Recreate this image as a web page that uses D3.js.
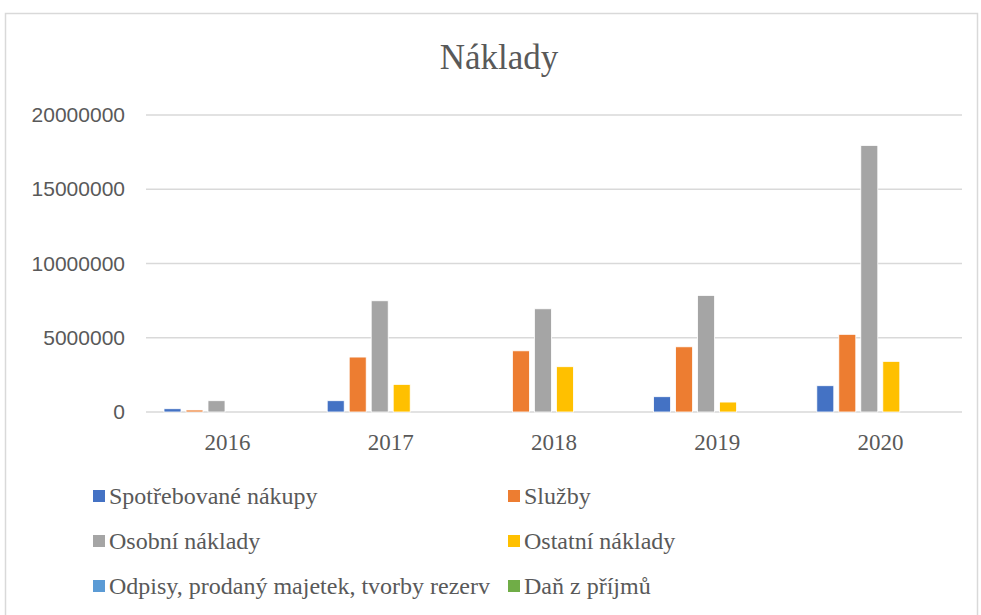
<!DOCTYPE html>
<html>
<head>
<meta charset="utf-8">
<script src="https://cdn.jsdelivr.net/npm/d3@7"></script>
<style>
  body { margin: 0; background: #fff; }
</style>
</head>
<body>
<div class="visHolder"></div>
<script>
// chart data
var years = ["2016", "2017", "2018", "2019", "2020"];
var seriesNames = ["Spotřebované nákupy", "Služby", "Osobní náklady", "Ostatní náklady",
  "Odpisy, prodaný majetek, tvorby rezerv", "Daň z příjmů"];
var spotrebovaneNakupy = [220000, 760000, 0, 1030000, 1770000];
var sluzby = [135000, 3700000, 4120000, 4390000, 5230000];
var osobniNaklady = [760000, 7490000, 6950000, 7850000, 17950000];
var ostatniNaklady = [0, 1860000, 3050000, 670000, 3410000];
var odpisy = [0, 0, 0, 0, 0];
var danZPrijmu = [0, 0, 0, 0, 0];
var yTicks = [0, 5000000, 10000000, 15000000, 20000000];
var colors = ["#4472C4", "#ED7D31", "#A5A5A5", "#FFC000", "#5B9BD5", "#70AD47"];

var values = [spotrebovaneNakupy, sluzby, osobniNaklady, ostatniNaklady, odpisy, danZPrijmu];

var width = 981, height = 615;
var margin = { top: 115, right: 19, bottom: 203, left: 146 };

var svg = d3.select(".visHolder")
  .append("svg")
  .attr("width", width)
  .attr("height", height);

// chart border
svg.append("rect")
  .attr("x", 5.5).attr("y", 13.5)
  .attr("width", 972).attr("height", 640)
  .attr("fill", "none")
  .attr("stroke", "#d9d9d9")
  .attr("stroke-width", 1.5);

// title
svg.append("text")
  .attr("x", 499).attr("y", 69)
  .attr("text-anchor", "middle")
  .style("font-family", "'Liberation Serif', 'Times New Roman', serif")
  .style("font-size", "35px")
  .style("fill", "#595959")
  .text("Náklady");

var x0 = d3.scaleBand()
  .domain(years)
  .range([margin.left, width - margin.right]);

var x1 = d3.scaleBand()
  .domain(d3.range(seriesNames.length))
  .range([18, 145])
  .paddingInner(0.227);

var y = d3.scaleLinear()
  .domain([0, 20000000])
  .range([412, 115]);

// gridlines
svg.append("g")
  .selectAll("line")
  .data(yTicks)
  .enter()
  .append("line")
    .attr("x1", margin.left)
    .attr("x2", width - margin.right)
    .attr("y1", function (d) { return y(d); })
    .attr("y2", function (d) { return y(d); })
    .attr("stroke", "#d9d9d9")
    .attr("stroke-width", 1.5);

// y axis labels
var yAxis = svg.append("g")
  .attr("transform", "translate(" + (margin.left - 8) + ",0)")
  .call(d3.axisLeft(y).tickValues(yTicks).tickSize(0).tickPadding(13).tickFormat(d3.format("d")));
yAxis.select(".domain").remove();
yAxis.selectAll("text")
  .style("font-family", "'Liberation Sans', Arial, sans-serif")
  .style("font-size", "21px")
  .style("fill", "#595959");

// x axis labels
var xAxis = svg.append("g")
  .attr("transform", "translate(0," + y(0) + ")")
  .call(d3.axisBottom(x0).tickSize(0).tickPadding(22));
xAxis.select(".domain").remove();
xAxis.selectAll("text")
  .style("font-family", "'Liberation Serif', 'Times New Roman', serif")
  .style("font-size", "23px")
  .style("fill", "#595959");

// bars
var groups = svg.append("g")
  .selectAll("g")
  .data(years)
  .enter()
  .append("g")
    .attr("transform", function (d) { return "translate(" + x0(d) + ",0)"; });

groups.selectAll("rect")
  .data(function (d, i) {
    return values.map(function (s, k) { return { k: k, v: s[i] }; });
  })
  .enter()
  .append("rect")
    .filter(function (d) { return d.v > 0; })
    .attr("x", function (d) { return x1(d.k); })
    .attr("width", x1.bandwidth())
    .attr("y", function (d) { return y(d.v); })
    .attr("height", function (d) { return y(0) - y(d.v); })
    .attr("fill", function (d) { return colors[d.k]; })
    .attr("stroke", "#fff")
    .attr("stroke-width", 0.8);

// legend
var legendPos = [
  { x: 93, y: 496 }, { x: 508, y: 496 },
  { x: 93, y: 541 }, { x: 508, y: 541 },
  { x: 93, y: 586 }, { x: 508, y: 586 }
];

var legend = svg.append("g")
  .selectAll("g")
  .data(seriesNames)
  .enter()
  .append("g")
    .attr("transform", function (d, i) { return "translate(" + legendPos[i].x + "," + legendPos[i].y + ")"; });

legend.append("rect")
  .attr("x", 0).attr("y", -6)
  .attr("width", 12).attr("height", 12)
  .attr("fill", function (d, i) { return colors[i]; });

legend.append("text")
  .attr("x", 16).attr("y", 8)
  .style("font-family", "'Liberation Serif', 'Times New Roman', serif")
  .style("font-size", "24px")
  .style("fill", "#595959")
  .text(function (d) { return d; });
</script>
</body>
</html>
